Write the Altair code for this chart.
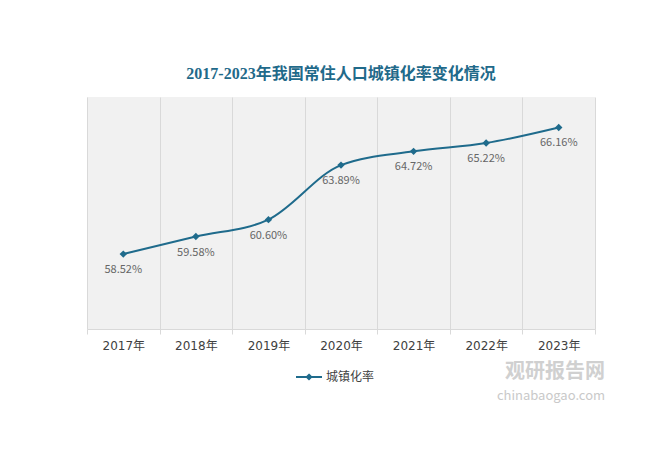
import altair as alt
import pandas as pd

years = ["2017年", "2018年", "2019年", "2020年", "2021年", "2022年", "2023年"]
rates = [58.52, 59.58, 60.60, 63.89, 64.72, 65.22, 66.16]
series_name = "城镇化率"
title_text = "2017-2023年我国常住人口城镇化率变化情况"
wm_cn = "观研报告网"
wm_en = "chinabaogao.com"

COLOR = "#1f6b8c"
FONT = "Noto Sans CJK SC"

df = pd.DataFrame({
    "year": years,
    "rate": rates,
    "label": [f"{v:.2f}%" for v in rates],
    "series": [series_name] * len(years),
})

x = alt.X("year:N", sort=years, title=None,
          scale=alt.Scale(paddingInner=0, paddingOuter=0),
          axis=alt.Axis(labelAngle=0, tickBand="extent", grid=True,
                        gridColor="#d9d9d9", domainColor="#d9d9d9",
                        tickColor="#d9d9d9", tickSize=5, labelPadding=6,
                        labelFont="DejaVu Sans, Noto Sans CJK SC", labelFontSize=12,
                        labelColor="#404040"))
y = alt.Y("rate:Q", scale=alt.Scale(domain=[54, 68], nice=False, zero=False), axis=None)

base = alt.Chart(df)

line = base.mark_line(interpolate="monotone", strokeWidth=2).encode(
    x=x, y=y,
    color=alt.Color("series:N", scale=alt.Scale(range=[COLOR]),
                    legend=alt.Legend(title=None, orient="none", legendX=208, legendY=266,
                                      symbolType="M-1,0L1,0M0,-0.17L0.17,0L0,0.17L-0.17,0Z",
                                      symbolSize=676, symbolStrokeWidth=2,
                                      symbolFillColor=COLOR, symbolStrokeColor=COLOR,
                                      labelFont=FONT, labelFontSize=12, labelColor="#404040",
                                      labelOffset=3)),
)

points = base.mark_point(shape="diamond", filled=True, size=55, color=COLOR, opacity=1).encode(
    x=x, y=y)

labels = base.mark_text(dy=16, fontSize=11, font=FONT, color="#666666").encode(
    x=x, y=y, text="label:N")

wm = pd.DataFrame({"a": [wm_cn], "b": [wm_en]})
wm1 = alt.Chart(wm).mark_text(fontSize=20, fontWeight="bold", font=FONT, color="#cccccc",
                              opacity=0.9).encode(
    x=alt.value(468), y=alt.value(275), text="a:N")
wm2 = alt.Chart(wm).mark_text(fontSize=13, font=FONT, color="#c4c4c4", opacity=0.9).encode(
    x=alt.value(464), y=alt.value(299), text="b:N")

chart = alt.layer(line, points, labels, wm1, wm2).properties(
    width=508, height=232,
    padding={"left": 79, "top": 89, "right": 69, "bottom": 113},
    autosize=alt.AutoSizeParams(type="none"),
    background="#ffffff",
    title=alt.TitleParams(title_text, anchor="middle", offset=15, fontSize=16,
                          fontWeight="bold", color="#1f6a8a",
                          font="Liberation Serif, Noto Sans CJK SC"),
).configure_view(fill="#f1f1f1", stroke=None)

chart.save("out.html", embed_options={"renderer": "svg", "actions": False})
